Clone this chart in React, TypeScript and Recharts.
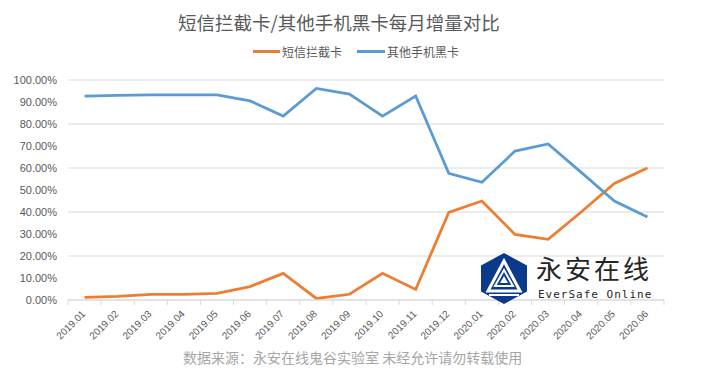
import React from 'react';
import { LineChart, Line, XAxis, YAxis, CartesianGrid } from 'recharts';

const categories = ['2019.01', '2019.02', '2019.03', '2019.04', '2019.05', '2019.06', '2019.07', '2019.08', '2019.09', '2019.10', '2019.11', '2019.12', '2020.01', '2020.02', '2020.03', '2020.04', '2020.05', '2020.06'];
const smsCard = [1.2, 1.7, 2.6, 2.6, 3.0, 6.1, 12.1, 0.7, 2.6, 12.1, 4.8, 39.8, 45.0, 29.8, 27.6, 40.0, 53.0, 60.0];
const otherCard = [92.7, 93.0, 93.2, 93.2, 93.2, 90.5, 83.6, 96.2, 93.6, 83.6, 92.7, 57.6, 53.5, 67.7, 70.9, 58.0, 45.0, 37.7];
const yTicks = [0, 10, 20, 30, 40, 50, 60, 70, 80, 90, 100];
const seriesNames = ['短信拦截卡', '其他手机黑卡'];
const titleText = '短信拦截卡/其他手机黑卡每月增量对比';
const footerText = '数据来源：永安在线鬼谷实验室 未经允许请勿转载使用';

const data = categories.map((c, i) => ({ cat: c, sms: smsCard[i], other: otherCard[i] }));

const W = 705;
const H = 375;
const M = { top: 80, right: 41, bottom: 30, left: 0 };
const Y_W = 68;
const PLOT_W = W - M.left - M.right - Y_W;
const BW = PLOT_W / categories.length;
const ORANGE = '#ED7D31';
const BLUE = '#5B9BD5';
const GRID = '#D9D9D9';
const TEXT = '#595959';
const FONT = '"Liberation Sans", Arial, sans-serif';
const CJK = '"Noto Sans CJK SC", "Noto Sans", sans-serif';

const XTick = (props: any) => {
  const { x, y, payload, index } = props;
  const last = index === categories.length - 1;
  return (
    <g>
      <line x1={x - BW / 2} x2={x - BW / 2} y1={y} y2={y + 5} stroke={GRID} />
      {last && <line x1={x + BW / 2} x2={x + BW / 2} y1={y} y2={y + 5} stroke={GRID} />}
      <g transform={`translate(${x - 1},${y + 12}) rotate(-45)`}>
        <text x={0} y={0} dy="0.35em" textAnchor="end" fill={TEXT} fontSize={10} fontFamily={FONT}>
          {payload.value}
        </text>
      </g>
    </g>
  );
};

export default function App() {
  return (
    <div style={{ position: 'relative', width: W, height: H, background: '#fff', fontFamily: CJK }}>
      <style>{'body{margin:0}'}</style>
      <div style={{ position: 'absolute', left: 178, top: 10, fontSize: 18.5, lineHeight: '24px', color: TEXT, whiteSpace: 'nowrap' }}>
        {titleText}
      </div>
      <div style={{ position: 'absolute', left: 253, top: 50, width: 27, height: 3, background: ORANGE }} />
      <div style={{ position: 'absolute', left: 282, top: 44, fontSize: 12, lineHeight: '16px', color: TEXT, whiteSpace: 'nowrap' }}>
        {seriesNames[0]}
      </div>
      <div style={{ position: 'absolute', left: 357, top: 50, width: 28, height: 3, background: BLUE }} />
      <div style={{ position: 'absolute', left: 387, top: 44, fontSize: 12, lineHeight: '16px', color: TEXT, whiteSpace: 'nowrap' }}>
        {seriesNames[1]}
      </div>
      <LineChart width={W} height={H} data={data} margin={M}>
        <CartesianGrid vertical={false} stroke={GRID} />
        <XAxis
          dataKey="cat"
          scale="band"
          height={45}
          interval={0}
          tickLine={false}
          tickSize={0}
          tickMargin={0}
          axisLine={{ stroke: GRID }}
          tick={<XTick />}
        />
        <YAxis
          width={Y_W}
          domain={[0, 100]}
          ticks={yTicks}
          axisLine={false}
          tickLine={false}
          tickMargin={5}
          tick={{ fill: TEXT, fontSize: 11, fontFamily: FONT }}
          tickFormatter={(v: number) => `${v.toFixed(2)}%`}
        />
        <Line type="linear" dataKey="sms" name={seriesNames[0]} stroke={ORANGE} strokeWidth={2.75} dot={false} isAnimationActive={false} />
        <Line type="linear" dataKey="other" name={seriesNames[1]} stroke={BLUE} strokeWidth={2.75} dot={false} isAnimationActive={false} />
      </LineChart>
      <svg style={{ position: 'absolute', left: 481, top: 253 }} width={46} height={51} viewBox="0 0 46 51">
        <polygon points="23,0 46,12.5 46,38.5 23,51 0,38.5 0,12.5" fill="#0B3A8A" />
        <polygon points="23,8 39,38 7,38" fill="none" stroke="#fff" strokeWidth={3} />
        <polygon points="23,17 32,33 14,33" fill="none" stroke="#fff" strokeWidth={2} />
        <polygon points="23,23 27,30 19,30" fill="#fff" />
        <rect x={8} y={41} width={30} height={2} fill="#fff" />
      </svg>
      <div style={{ position: 'absolute', left: 536, top: 255, fontSize: 26, lineHeight: '26px', letterSpacing: 3, color: '#262626', whiteSpace: 'nowrap' }}>
        永安在线
      </div>
      <div style={{ position: 'absolute', left: 538, top: 289, fontSize: 11, lineHeight: '12px', color: '#262626', fontFamily: '"DejaVu Sans Mono", monospace', letterSpacing: 1, whiteSpace: 'nowrap' }}>
        EverSafe Online
      </div>
      <div style={{ position: 'absolute', left: 183, top: 347, fontSize: 14, lineHeight: '20px', color: '#A6A6A6', whiteSpace: 'nowrap' }}>
        {footerText}
      </div>
    </div>
  );
}
